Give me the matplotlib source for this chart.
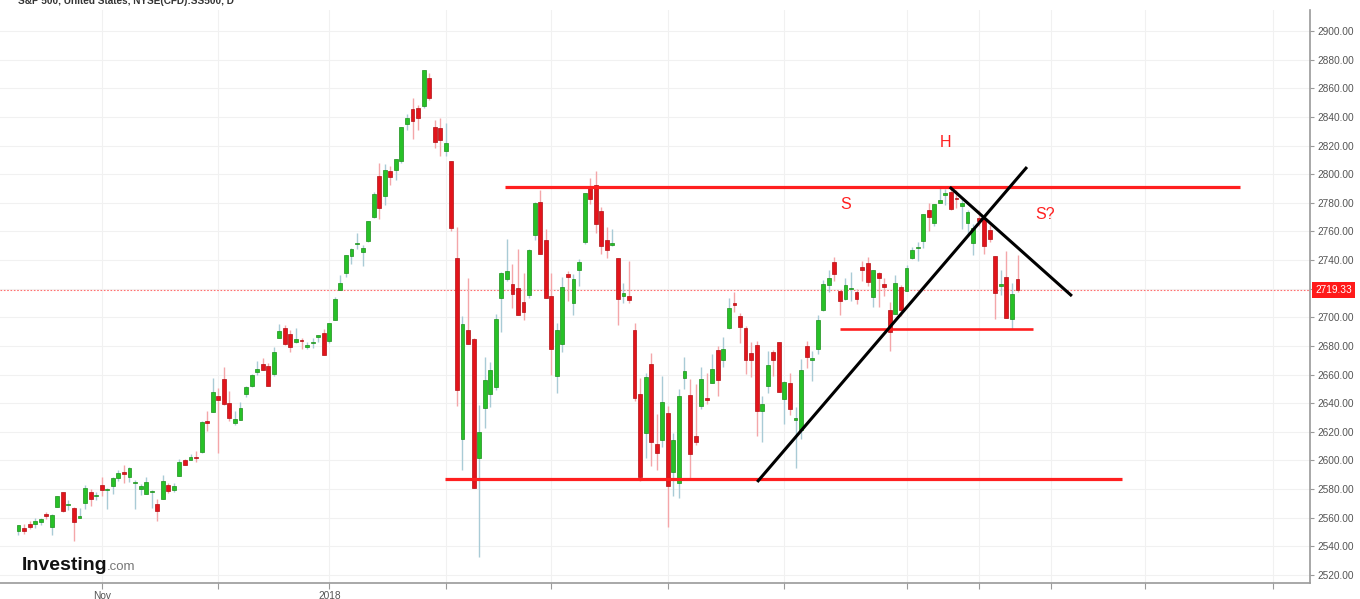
import numpy as np
import matplotlib
matplotlib.use("Agg")
import matplotlib.pyplot as plt
from matplotlib.transforms import blended_transform_factory

# S&P 500 daily candles, 11 Oct 2017 .. 29 Jun 2018
opens = [
    2550.6, 2552.9, 2555.7, 2555.6, 2557.2, 2562.9, 2553.4, 2567.6, 2578.1, 2568.7,
    2566.5, 2560.1, 2570.3, 2577.8, 2575.0, 2583.2, 2579.5, 2581.9, 2587.5, 2592.1,
    2588.7, 2584.0, 2580.2, 2576.5, 2577.8, 2569.5, 2572.9, 2582.9, 2579.5, 2589.2,
    2600.3, 2600.4, 2602.7, 2605.9, 2627.8, 2633.9, 2645.1, 2657.2, 2639.8, 2626.2,
    2628.4, 2646.2, 2652.2, 2661.7, 2667.6, 2665.9, 2660.6, 2685.9, 2692.7, 2688.2,
    2683.0, 2684.2, 2679.1, 2682.1, 2686.1, 2689.2, 2683.7, 2697.9, 2719.3, 2731.3,
    2742.7, 2751.2, 2745.6, 2753.0, 2770.2, 2799.0, 2785.0, 2802.4, 2802.6, 2809.2,
    2835.1, 2845.4, 2846.2, 2847.5, 2867.2, 2832.7, 2832.4, 2816.5, 2808.9, 2741.1,
    2614.8, 2691.0, 2685.0, 2601.8, 2636.8, 2646.3, 2651.2, 2713.5, 2727.1, 2723.0,
    2720.5, 2710.4, 2715.8, 2757.4, 2780.5, 2753.8, 2715.2, 2658.9, 2681.1, 2730.2,
    2710.2, 2732.8, 2752.9, 2790.5, 2792.3, 2774.1, 2754.3, 2750.6, 2741.4, 2715.1,
    2715.0, 2691.4, 2646.7, 2619.4, 2667.6, 2611.3, 2614.4, 2633.5, 2592.2, 2584.0,
    2657.4, 2645.8, 2617.2, 2638.4, 2643.9, 2653.8, 2676.9, 2670.1, 2692.7, 2710.1,
    2701.2, 2692.6, 2675.4, 2680.8, 2634.9, 2651.7, 2675.5, 2682.5, 2643.0, 2654.2,
    2628.1, 2621.5, 2680.3, 2670.3, 2678.1, 2705.0, 2722.7, 2738.5, 2718.6, 2712.6,
    2719.7, 2717.4, 2735.4, 2738.3, 2714.0, 2730.9, 2723.6, 2705.1, 2702.4, 2721.0,
    2718.7, 2741.7, 2748.5, 2753.3, 2774.8, 2765.8, 2780.2, 2785.6, 2787.9, 2783.2,
    2777.8, 2765.8, 2752.0, 2769.7, 2769.3, 2760.8, 2742.9, 2722.1, 2728.5, 2698.7,
    2727.1,
]
highs = [
    2555.2, 2555.3, 2557.7, 2559.5, 2559.7, 2564.1, 2562.4, 2575.4, 2578.3, 2572.2,
    2567.4, 2567.1, 2583.0, 2580.0, 2578.3, 2588.4, 2581.1, 2588.4, 2593.4, 2597.0,
    2595.5, 2586.5, 2583.8, 2588.4, 2579.7, 2572.8, 2590.1, 2584.0, 2584.6, 2601.2,
    2600.9, 2604.2, 2606.4, 2627.7, 2634.9, 2657.7, 2650.6, 2665.2, 2648.7, 2634.4,
    2641.0, 2651.7, 2660.3, 2669.7, 2671.9, 2668.1, 2679.6, 2695.0, 2694.4, 2691.0,
    2692.6, 2685.4, 2682.7, 2685.6, 2687.7, 2692.1, 2695.9, 2714.4, 2729.3, 2743.5,
    2748.5, 2759.1, 2750.8, 2767.6, 2787.9, 2807.5, 2807.0, 2805.8, 2810.3, 2833.0,
    2842.2, 2853.0, 2848.6, 2872.9, 2870.6, 2837.8, 2839.3, 2836.0, 2808.9, 2763.4,
    2701.0, 2727.7, 2685.3, 2638.7, 2672.6, 2668.8, 2702.1, 2731.5, 2754.4, 2737.6,
    2747.8, 2731.3, 2747.8, 2780.6, 2789.2, 2761.5, 2730.9, 2696.3, 2728.1, 2732.1,
    2730.6, 2740.5, 2786.6, 2797.0, 2801.9, 2777.1, 2763.0, 2761.9, 2741.4, 2724.2,
    2739.1, 2695.7, 2657.7, 2661.4, 2674.8, 2632.7, 2659.1, 2638.3, 2619.1, 2649.9,
    2672.1, 2656.9, 2653.6, 2665.5, 2661.4, 2674.7, 2680.3, 2686.5, 2713.3, 2717.5,
    2702.8, 2693.9, 2682.9, 2683.6, 2645.3, 2676.5, 2677.4, 2682.9, 2655.3, 2660.9,
    2637.1, 2670.9, 2683.4, 2676.3, 2701.3, 2726.1, 2732.9, 2742.1, 2718.6, 2727.8,
    2732.0, 2719.5, 2739.2, 2742.2, 2733.3, 2732.0, 2727.4, 2710.7, 2729.3, 2722.5,
    2736.9, 2749.2, 2752.6, 2772.4, 2779.9, 2779.4, 2790.2, 2789.8, 2791.5, 2789.1,
    2782.8, 2775.0, 2765.1, 2774.9, 2769.3, 2764.2, 2742.9, 2732.9, 2746.1, 2724.3,
    2743.3,
]
lows = [
    2547.9, 2548.3, 2552.0, 2552.6, 2554.7, 2559.2, 2547.9, 2567.6, 2564.3, 2565.6,
    2544.0, 2559.5, 2565.9, 2568.1, 2572.2, 2574.9, 2566.2, 2576.8, 2585.7, 2584.4,
    2585.0, 2566.3, 2575.6, 2576.5, 2566.6, 2557.5, 2572.9, 2577.6, 2578.2, 2589.2,
    2596.5, 2600.4, 2598.9, 2605.4, 2620.3, 2633.9, 2605.5, 2639.0, 2627.7, 2624.8,
    2628.4, 2644.1, 2651.5, 2659.8, 2662.9, 2652.0, 2659.1, 2685.9, 2680.7, 2676.1,
    2682.4, 2678.1, 2678.0, 2678.9, 2682.7, 2673.6, 2682.4, 2697.8, 2719.1, 2727.9,
    2737.6, 2747.9, 2736.1, 2752.8, 2769.6, 2768.6, 2778.4, 2792.6, 2795.8, 2808.1,
    2830.6, 2824.8, 2830.9, 2846.2, 2851.5, 2818.3, 2813.0, 2812.7, 2760.0, 2638.2,
    2593.1, 2681.3, 2580.6, 2532.7, 2622.5, 2637.1, 2648.9, 2689.8, 2725.1, 2706.8,
    2701.3, 2697.8, 2713.7, 2753.8, 2744.2, 2713.5, 2659.7, 2647.3, 2675.8, 2711.3,
    2701.7, 2721.9, 2751.5, 2779.3, 2758.7, 2744.4, 2741.5, 2750.0, 2694.6, 2710.1,
    2709.8, 2641.6, 2585.9, 2601.8, 2596.1, 2593.1, 2609.7, 2553.8, 2575.5, 2573.6,
    2649.6, 2586.3, 2610.8, 2635.8, 2639.3, 2653.8, 2645.1, 2665.2, 2692.1, 2703.6,
    2681.9, 2660.6, 2658.0, 2617.3, 2612.7, 2647.2, 2659.0, 2648.0, 2625.4, 2631.7,
    2594.6, 2615.3, 2664.7, 2655.2, 2674.1, 2704.5, 2717.5, 2725.5, 2701.9, 2712.2,
    2711.4, 2709.2, 2725.7, 2721.9, 2707.4, 2707.4, 2715.0, 2676.8, 2702.4, 2700.7,
    2718.7, 2740.5, 2739.5, 2748.5, 2760.2, 2763.6, 2780.2, 2778.8, 2774.7, 2776.5,
    2761.7, 2757.1, 2743.2, 2763.9, 2744.4, 2752.7, 2698.7, 2715.6, 2699.4, 2692.0,
    2718.0,
]
closes = [
    2555.2, 2550.9, 2553.2, 2557.6, 2559.4, 2561.3, 2562.1, 2575.2, 2565.0, 2569.1,
    2557.2, 2560.4, 2581.1, 2572.8, 2575.3, 2579.4, 2579.9, 2587.8, 2591.1, 2590.6,
    2594.4, 2584.6, 2582.3, 2584.8, 2578.9, 2564.6, 2585.6, 2578.9, 2582.1, 2599.0,
    2597.1, 2602.4, 2601.4, 2627.0, 2626.1, 2647.6, 2642.2, 2639.4, 2629.6, 2629.3,
    2637.0, 2651.5, 2660.0, 2664.1, 2662.9, 2652.0, 2675.8, 2690.2, 2681.5, 2679.3,
    2684.6, 2683.3, 2680.5, 2682.6, 2687.5, 2673.6, 2695.8, 2713.1, 2724.0, 2743.2,
    2747.7, 2751.3, 2748.2, 2767.6, 2786.2, 2776.4, 2802.6, 2798.0, 2810.3, 2833.0,
    2839.1, 2837.5, 2839.3, 2872.9, 2853.5, 2822.4, 2823.8, 2822.0, 2762.1, 2648.9,
    2695.1, 2681.7, 2581.0, 2619.6, 2656.0, 2662.9, 2698.6, 2731.2, 2732.2, 2716.3,
    2701.3, 2704.0, 2747.3, 2779.6, 2744.3, 2713.8, 2677.7, 2691.3, 2720.9, 2728.1,
    2726.8, 2739.0, 2786.6, 2783.0, 2765.3, 2749.5, 2747.3, 2752.0, 2712.9, 2716.9,
    2711.9, 2643.7, 2588.3, 2658.6, 2612.6, 2605.0, 2640.9, 2581.9, 2614.5, 2644.7,
    2662.8, 2604.5, 2613.2, 2656.9, 2642.2, 2664.0, 2656.3, 2677.8, 2706.4, 2708.6,
    2693.1, 2670.1, 2670.3, 2634.6, 2639.4, 2666.9, 2669.9, 2648.1, 2654.8, 2635.7,
    2629.7, 2663.4, 2672.6, 2671.9, 2697.8, 2723.1, 2727.7, 2730.1, 2711.5, 2722.5,
    2720.1, 2713.0, 2733.0, 2724.4, 2733.3, 2727.8, 2721.3, 2689.9, 2724.0, 2705.3,
    2734.6, 2746.9, 2748.8, 2772.4, 2770.4, 2779.0, 2782.0, 2786.9, 2775.6, 2782.5,
    2779.7, 2773.8, 2762.6, 2767.3, 2749.8, 2754.9, 2717.1, 2723.1, 2699.6, 2716.3,
    2719.3,
]
last_price = 2719.33

# x grid / tick positions (candle index) and labels
grid_idx = [15, 36, 56, 77, 96, 117, 138, 160, 173, 186, 203, 226]
grid_labels = ["Nov", "", "2018", "", "", "", "", "", "", "", "", ""]

# hand-drawn analysis on the chart (candle index, price)
resistance = (87.7, 220.1, 2790.7)
support = (76.8, 198.8, 2587.1)
neckline = (148.0, 182.8, 2691.8)
trend_up = ([133.1, 181.7], [2585.0, 2805.0])
trend_down = ([167.8, 189.8], [2791.0, 2714.9])
letters = [("H", 167.1, 2821.8), ("S", 149.1, 2778.5), ("S?", 184.9, 2771.5)]

GREEN, GREEN_EDGE, GREEN_WICK = "#27c127", "#1c8f1c", "#a9cbd6"
RED, RED_EDGE, RED_WICK = "#e3141b", "#b00f14", "#f4a6a9"
LINE_RED = "#ff1f1f"
AXIS = "#9a9a9a"
LABEL = "#555555"

o = np.array(opens); h = np.array(highs); l = np.array(lows); c = np.array(closes)
x = np.arange(len(c))
up = c >= o

fig = plt.figure(figsize=(13.6, 5.99), dpi=100)
fig.patch.set_facecolor("white")
ax = fig.add_axes([0, 16 / 599, 1310 / 1360, 573 / 599])

ax.vlines(x, l, h, colors=np.where(up, GREEN_WICK, RED_WICK), linewidth=1, zorder=2)
bottoms = np.minimum(o, c)
heights = np.maximum(np.abs(c - o), 0.9)
ax.bar(x, heights, bottom=bottoms, width=0.7,
       color=np.where(up, GREEN, RED), edgecolor=np.where(up, GREEN_EDGE, RED_EDGE),
       linewidth=0.5, zorder=3)

ax.set_xlim(-3.33, 232.7)
ax.set_ylim(2514.4, 2914.7)

# horizontal levels and trendlines
ax.hlines(resistance[2], resistance[0], resistance[1], color=LINE_RED, lw=2.3, zorder=5)
ax.hlines(support[2], support[0], support[1], color=LINE_RED, lw=2.3, zorder=5)
ax.hlines(neckline[2], neckline[0], neckline[1], color=LINE_RED, lw=1.9, zorder=5)
ax.plot(*trend_up, color="black", lw=2.2, zorder=6, solid_capstyle="butt")
ax.plot(*trend_down, color="black", lw=2.2, zorder=6, solid_capstyle="butt")
for txt, xi, yi in letters:
    ax.text(xi, yi, txt, color=LINE_RED, fontsize=11.5, ha="center", va="center",
            family="Liberation Sans", zorder=7)

# last price
ax.axhline(last_price, color="#ff7070", lw=0.8, ls=(0, (1.5, 1.5)), zorder=1)
tr = blended_transform_factory(ax.transAxes, ax.transData)
ax.text(1.004, last_price, f"{last_price:.2f}", transform=tr, ha="left", va="center",
        color="white", fontsize=7.3, family="Liberation Sans", clip_on=False,
        bbox=dict(boxstyle="square,pad=0.3", fc="#ff1a1a", ec="none"))

# axes styling
ax.yaxis.tick_right()
ax.set_yticks(np.arange(2520, 2901, 20))
ax.set_yticklabels([f"{v:.2f}" for v in np.arange(2520, 2901, 20)])
ax.set_xticks(grid_idx)
ax.set_xticklabels(grid_labels)
ax.tick_params(axis="y", length=3, width=0.8, color=AXIS, labelcolor=LABEL,
               labelsize=7.3, pad=2)
ax.tick_params(axis="x", length=4, width=0.8, color=AXIS, labelcolor=LABEL,
               labelsize=7.3, pad=2)
for t in ax.get_xticklabels() + ax.get_yticklabels():
    t.set_family("Liberation Sans")
ax.grid(True, color="#f1f1f1", lw=0.8, zorder=0)
ax.set_axisbelow(True)
for side in ("top", "left"):
    ax.spines[side].set_visible(False)
for side in ("right", "bottom"):
    ax.spines[side].set_color(AXIS)
    ax.spines[side].set_linewidth(1.2)

# header (cut off at the top of the screenshot) and watermark
fig.text(18 / 1360, 1 - 4 / 599, "S&P 500, United States, NYSE(CFD):SS500, D",
         fontsize=7.2, fontweight="bold", color="#333333", family="Liberation Sans",
         va="baseline")
fig.text(22 / 1360, 1 - 570 / 599, "Investing", fontsize=14, fontweight="bold",
         color="#111111", family="Liberation Sans", va="baseline")
fig.text(107 / 1360, 1 - 570 / 599, ".com", fontsize=9.5, color="#777777",
         family="Liberation Sans", va="baseline")

fig.savefig("out.png", dpi=100, facecolor="white")
